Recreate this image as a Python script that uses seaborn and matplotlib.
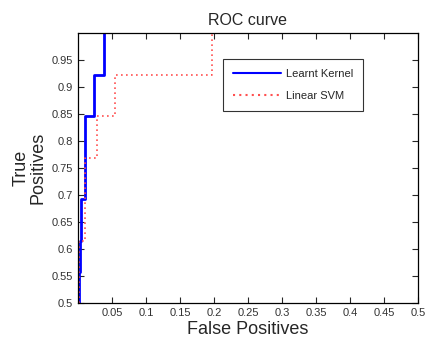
import numpy as np
import pandas as pd
import seaborn as sns
import matplotlib.pyplot as plt

# ROC vertices
kernel_fpr = [0.0015, 0.0015, 0.003, 0.003, 0.005, 0.005, 0.0105, 0.0105, 0.024, 0.024, 0.038, 0.038]
kernel_tpr = [0.49, 0.557, 0.557, 0.615, 0.615, 0.692, 0.692, 0.846, 0.846, 0.923, 0.923, 1.01]

svm_fpr = [0.0015, 0.0015, 0.011, 0.011, 0.028, 0.028, 0.054, 0.054, 0.197, 0.197]
svm_tpr = [0.49, 0.615, 0.615, 0.769, 0.769, 0.846, 0.846, 0.923, 0.923, 1.01]

xticks = [0.05, 0.1, 0.15, 0.2, 0.25, 0.3, 0.35, 0.4, 0.45, 0.5]
yticks = [0.5, 0.55, 0.6, 0.65, 0.7, 0.75, 0.8, 0.85, 0.9, 0.95]

sns.set_style("ticks")
plt.rcParams['font.family'] = ['Liberation Sans', 'DejaVu Sans']

kernel_df = pd.DataFrame({"fpr": kernel_fpr, "tpr": kernel_tpr})
svm_df = pd.DataFrame({"fpr": svm_fpr, "tpr": svm_tpr})

fig = plt.figure(figsize=(4.27, 3.41), dpi=100)
ax = fig.add_axes([78 / 427, 38 / 341, 340 / 427, 270 / 341])

sns.lineplot(data=kernel_df, x="fpr", y="tpr", sort=False, estimator=None,
             color="#0000ff", linewidth=2, label="Learnt Kernel", ax=ax)
sns.lineplot(data=svm_df, x="fpr", y="tpr", sort=False, estimator=None,
             color="#ff5050", linewidth=1.2, linestyle=(0, (1, 2)), label="Linear SVM", ax=ax)

ax.set_xlim(0.0, 0.5)
ax.set_ylim(0.5, 1.0)
ax.set_xticks(xticks)
ax.set_yticks(yticks)
ax.set_xticklabels([f"{v:g}" for v in xticks])
ax.set_yticklabels([f"{v:g}" for v in yticks])
ax.tick_params(direction="in", top=True, right=True, length=4, labelsize=8,
               labelcolor="#333333", width=0.8)
for s in ax.spines.values():
    s.set_linewidth(0.9)
    s.set_color("black")

ax.set_title("ROC curve", fontsize=11.5, pad=6)
ax.set_xlabel("False Positives", fontsize=13, labelpad=2)
ax.set_ylabel("True\nPositives", fontsize=13, labelpad=4, linespacing=0.95)

leg = ax.legend(loc="upper left", bbox_to_anchor=(0.426, 0.904), fontsize=8,
                frameon=True, fancybox=False, edgecolor="black",
                handlelength=4.3, handletextpad=0.5, borderpad=0.9,
                labelspacing=1.1, borderaxespad=0)
leg.get_frame().set_linewidth(0.8)
for line in leg.get_lines():
    line.set_linewidth(1.5)

fig.savefig("out.png", dpi=100)
